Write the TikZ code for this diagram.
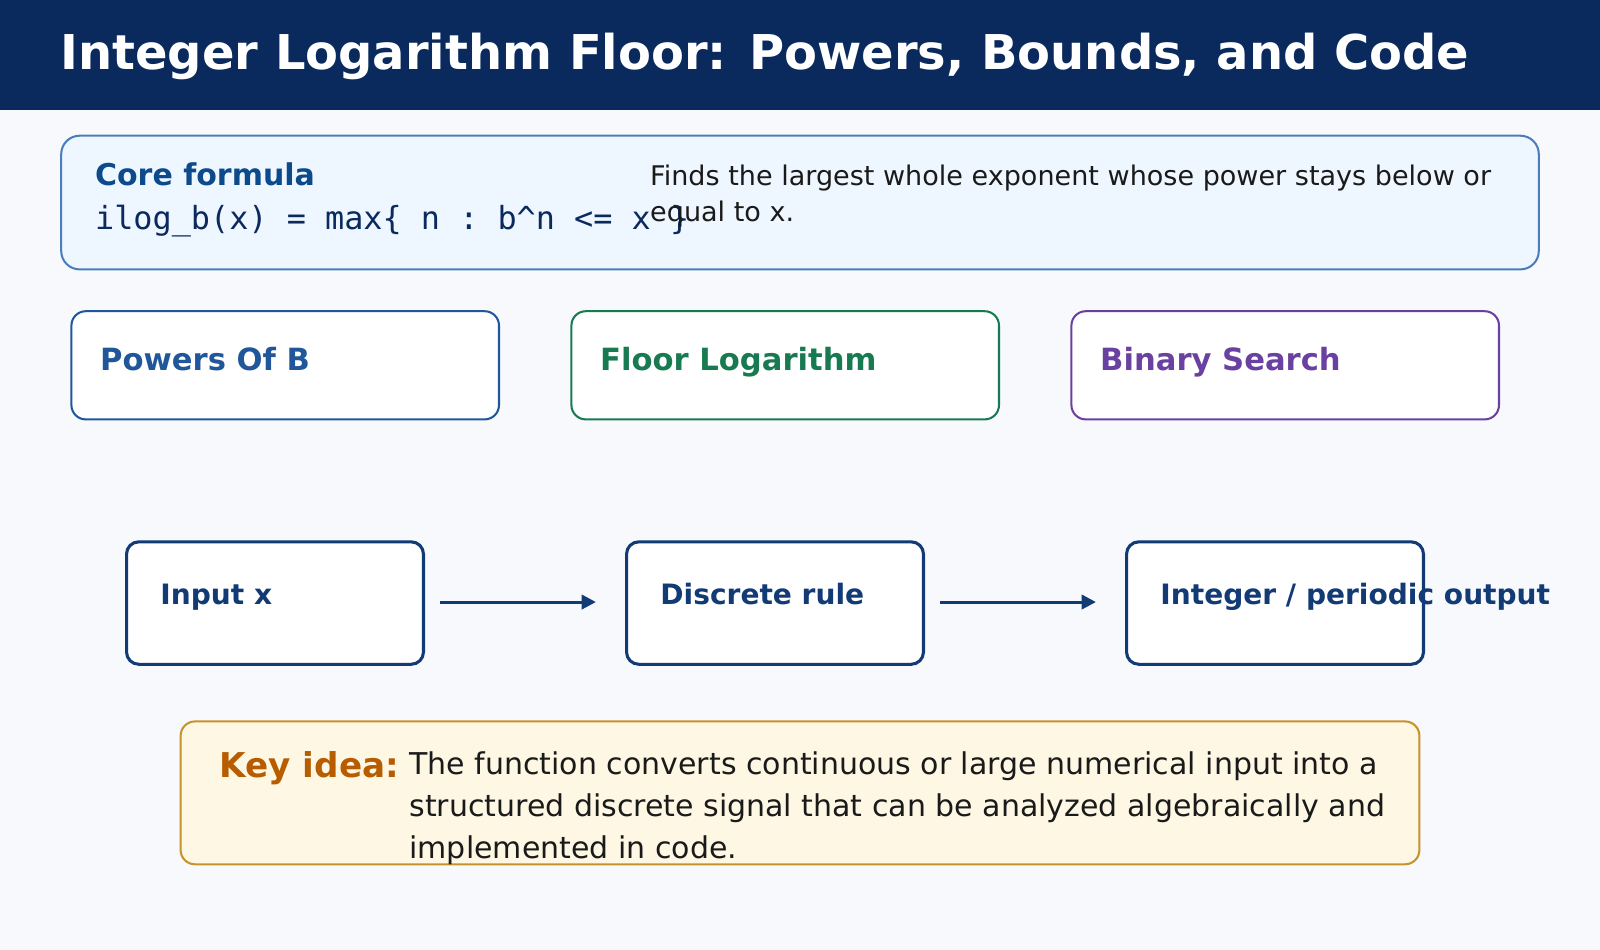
\documentclass[tikz,border=0pt]{standalone}
\usepackage{fontspec}
\setmainfont{DejaVu Sans}
\setmonofont{DejaVu Sans Mono}
\usetikzlibrary{arrows.meta}
\definecolor{navy}{HTML}{0A2A5E}
\definecolor{bg}{HTML}{F7F9FD}
\definecolor{corefill}{HTML}{EEF7FF}
\definecolor{corestroke}{HTML}{4A7EBB}
\definecolor{coretext}{HTML}{0D4A8C}
\definecolor{cblue}{HTML}{1F579A}
\definecolor{cgreen}{HTML}{177A50}
\definecolor{cpurple}{HTML}{6A40A0}
\definecolor{flow}{HTML}{123A75}
\definecolor{keyfill}{HTML}{FDF7E3}
\definecolor{keystroke}{HTML}{C8922A}
\definecolor{keytext}{HTML}{B85C00}
\definecolor{body}{HTML}{1A1A1A}
\begin{document}
\begin{tikzpicture}[x=1pt,y=-1pt,
  lbl/.style={anchor=base west,inner sep=0pt},
  card/.style={rounded corners=14pt,line width=2pt,fill=white},
  cardtxt/.style={lbl,font=\fontsize{30}{34}\selectfont\bfseries},
  flowbox/.style={rounded corners=12pt,line width=3pt,draw=flow,fill=white},
  flowtxt/.style={lbl,font=\fontsize{27.5}{30}\selectfont\bfseries,text=flow},
  arr/.style={draw=flow,line width=3pt,-{Triangle[length=14pt,width=14pt]}}]
\useasboundingbox (0,0) rectangle (1568,931);
\fill[bg] (0,0) rectangle (1568,931);
\fill[navy] (0,0) rectangle (1568,108);
\node[lbl,text=white,font=\fontsize{47}{52}\selectfont\bfseries] (title) at (59,68) {Integer Logarithm Floor: Powers, Bounds, and Code};
\draw[rounded corners=18pt,line width=2pt,draw=corestroke,fill=corefill] (60,133) rectangle (1508,264);
\node[lbl,text=coretext,font=\fontsize{29.4}{32}\selectfont\bfseries] (coreh) at (93,182) {Core formula};
\node[lbl,text=navy,font=\fontsize{31.2}{34}\ttfamily] (formula) at (93,225) {ilog\_b(x) = max\{ n : b\^{}n <= x \}};
\node[lbl,text=body,font=\fontsize{26.5}{35}\selectfont] (coredesc) at (637,182) {\begin{tabular}[t]{@{}l@{}}Finds the largest whole exponent whose power stays below or\\equal to x.\end{tabular}};
\draw[card,draw=cblue] (70,305) rectangle (489,411);
\node[cardtxt,text=cblue] (t1) at (98,363) {Powers Of B};
\draw[card,draw=cgreen] (560,305) rectangle (979,411);
\node[cardtxt,text=cgreen] (t2) at (588,363) {Floor Logarithm};
\draw[card,draw=cpurple] (1050,305) rectangle (1469,411);
\node[cardtxt,text=cpurple] (t3) at (1078,363) {Binary Search};
\draw[flowbox] (124,531) rectangle (415,651);
\draw[flowbox] (614,531) rectangle (905,651);
\draw[flowbox] (1104,531) rectangle (1395,651);
\node[flowtxt] (f1) at (157,592) {Input x};
\node[flowtxt] (f2) at (647,592) {Discrete rule};
\node[flowtxt] (f3) at (1137,592) {Integer / periodic output};
\coordinate (a1s) at (431,590); \coordinate (a1e) at (584,590);
\coordinate (a2s) at (921,590); \coordinate (a2e) at (1074,590);
\draw[arr] (a1s) -- (a1e);
\draw[arr] (a2s) -- (a2e);
\draw[rounded corners=14pt,line width=2pt,draw=keystroke,fill=keyfill] (177,707) rectangle (1391,847);
\node[lbl,text=keytext,font=\fontsize{33.5}{36}\selectfont\bfseries] (kh) at (215,762) {Key idea:};
\node[lbl,text=body,font=\fontsize{29.4}{41}\selectfont] (kt) at (401,759) {\begin{tabular}[t]{@{}l@{}}The function converts continuous or large numerical input into a\\structured discrete signal that can be analyzed algebraically and\\implemented in code.\end{tabular}};
\end{tikzpicture}
\end{document}
